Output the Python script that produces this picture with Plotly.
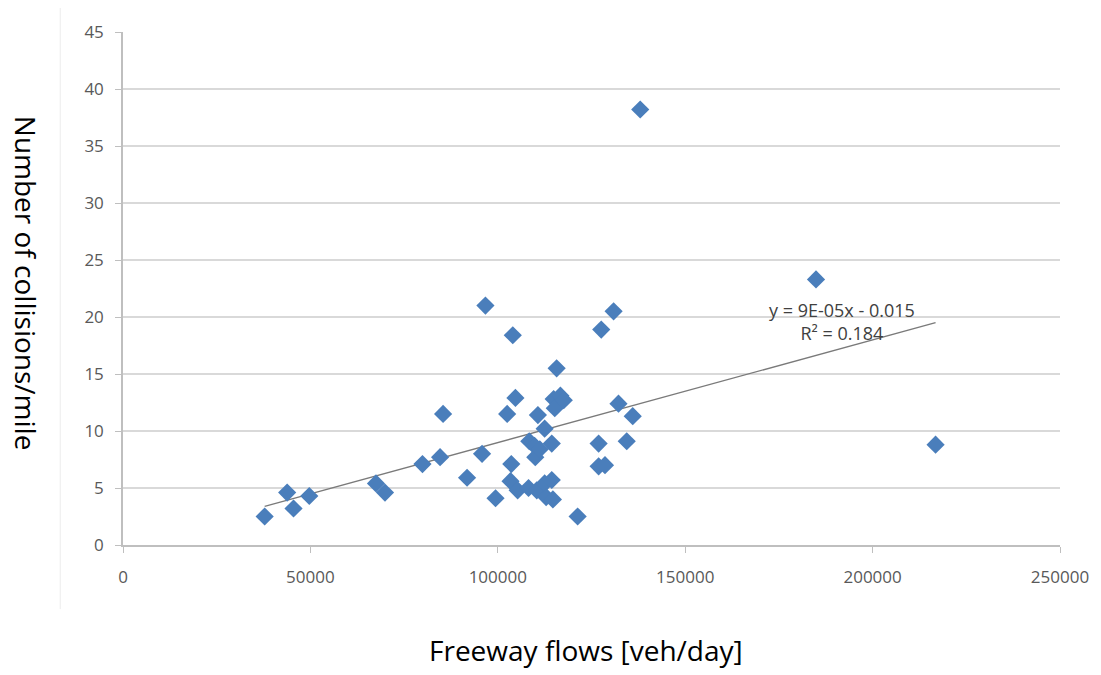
import numpy as np
import plotly.graph_objects as go

# freeway flow [veh/day] vs collisions per mile
flows = [37800, 43800, 45500, 49700, 67500, 69900, 79900, 84600, 85400, 91800,
         95800, 96700, 99400, 102500, 103400, 103600, 104000, 104700, 105300, 108200,
         108400, 109800, 110000, 110400, 110700, 111200, 112500, 112500, 112900, 114400,
         114400, 114700, 114900, 115200, 115700, 116700, 117600, 121300, 126900, 126900,
         127600, 128600, 130900, 132200, 134400, 136000, 138000, 184900, 216800]
collisions = [2.5, 4.6, 3.2, 4.3, 5.4, 4.6, 7.1, 7.7, 11.5, 5.9,
              8.0, 21.0, 4.1, 11.5, 5.6, 7.1, 18.4, 12.9, 4.8, 5.0,
              9.1, 8.7, 7.7, 4.8, 11.4, 8.4, 10.2, 5.4, 4.2, 8.9,
              5.7, 4.0, 12.8, 12.0, 15.5, 13.1, 12.7, 2.5, 8.9, 6.9,
              18.9, 7.0, 20.5, 12.4, 9.1, 11.3, 38.2, 23.3, 8.8]

# trendline as reported on the chart
slope = 9e-5
intercept = -0.015
r_squared = 0.184

x_ticks = [0, 50000, 100000, 150000, 200000, 250000]
y_ticks = [0, 5, 10, 15, 20, 25, 30, 35, 40, 45]

tick_font = dict(family='Open Sans', size=17, color='#595959')
title_font = dict(family='Open Sans', size=28, color='#000000')

fig = go.Figure()

trend_x = np.array([min(flows), max(flows)])
fig.add_trace(go.Scatter(x=trend_x, y=slope * trend_x + intercept, mode='lines',
                         line=dict(color='#7a7a7a', width=1.3), hoverinfo='skip'))

fig.add_trace(go.Scatter(x=flows, y=collisions, mode='markers',
                         marker=dict(symbol='diamond', size=14, color='#4a7ebb',
                                     line=dict(width=0))))

fig.add_annotation(x=191800, y=19.6, text=f"y = 9E-05x - 0.015<br>R² = {r_squared}",
                   showarrow=False, align='center', xanchor='center', yanchor='middle',
                   font=dict(family='Open Sans', size=18, color='#404040'))

fig.add_annotation(xref='paper', yref='paper', x=-0.104, y=0.51, xanchor='center', yanchor='middle',
                   text="Number of collisions/mile", textangle=90, showarrow=False,
                   font=title_font)

fig.add_annotation(xref='paper', yref='paper', x=0.494, y=-0.205, xanchor='center', yanchor='middle',
                   text="Freeway flows [veh/day]", showarrow=False, font=title_font)

# faint outer border line on the left
fig.add_shape(type='line', xref='paper', yref='paper', x0=-0.067, x1=-0.067, y0=1.05, y1=-0.125,
              line=dict(color='#ececec', width=1))

fig.update_xaxes(range=[0, 250000], tickvals=x_ticks, ticktext=[str(v) for v in x_ticks],
                 showgrid=False, zeroline=False, showline=True, linecolor='#bfbfbf', linewidth=1.5,
                 ticks='outside', ticklen=6, tickcolor='#bfbfbf', ticklabelstandoff=10,
                 tickfont=tick_font)
fig.update_yaxes(range=[0, 45], tickvals=y_ticks, showgrid=True, gridcolor='#d9d9d9', gridwidth=1.5,
                 zeroline=False, showline=True, linecolor='#bfbfbf', linewidth=1.5,
                 ticks='outside', ticklen=6, tickcolor='#bfbfbf', ticklabelstandoff=8,
                 tickfont=tick_font)

fig.update_layout(width=1093, height=667, showlegend=False,
                  margin=dict(l=115, r=38, t=17, b=130),
                  plot_bgcolor='white', paper_bgcolor='white')

fig.write_html("out.html")
